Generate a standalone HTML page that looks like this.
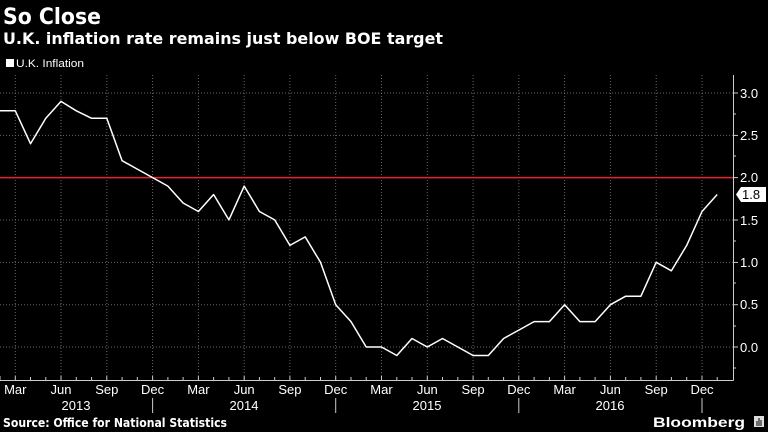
<!DOCTYPE html>
<html><head><meta charset="utf-8"><style>
html,body{margin:0;padding:0;background:#000;}
svg{display:block;font-family:"Liberation Sans",sans-serif;}
</style></head><body>
<svg width="768" height="432" viewBox="0 0 768 432" xmlns="http://www.w3.org/2000/svg">
<rect width="768" height="432" fill="#000"/>
<text x="3" y="24" fill="#fff" font-size="22" font-weight="bold" font-family="DejaVu Sans, sans-serif" textLength="98" lengthAdjust="spacingAndGlyphs">So Close</text>
<text x="3" y="44" fill="#fff" font-size="16" font-weight="bold" font-family="DejaVu Sans, sans-serif" textLength="440" lengthAdjust="spacingAndGlyphs">U.K. inflation rate remains just below BOE target</text>
<rect x="6" y="59" width="8" height="8" fill="#fff"/>
<text x="16" y="67" fill="#fff" font-size="11" textLength="68" lengthAdjust="spacingAndGlyphs">U.K. Inflation</text>
<g stroke="#666" stroke-width="1" stroke-dasharray="1,2">
<line x1="0" y1="93" x2="733" y2="93"/>
<line x1="0" y1="135.4" x2="733" y2="135.4"/>
<line x1="0" y1="220" x2="733" y2="220"/>
<line x1="0" y1="262.4" x2="733" y2="262.4"/>
<line x1="0" y1="304.7" x2="733" y2="304.7"/>
<line x1="0" y1="347" x2="733" y2="347"/>
<line x1="15.3" y1="75" x2="15.3" y2="380"/><line x1="61" y1="75" x2="61" y2="380"/><line x1="106.8" y1="75" x2="106.8" y2="380"/><line x1="152.6" y1="75" x2="152.6" y2="380"/>
<line x1="198.4" y1="75" x2="198.4" y2="380"/><line x1="244.2" y1="75" x2="244.2" y2="380"/><line x1="289.9" y1="75" x2="289.9" y2="380"/><line x1="335.7" y1="75" x2="335.7" y2="380"/>
<line x1="381.5" y1="75" x2="381.5" y2="380"/><line x1="427.3" y1="75" x2="427.3" y2="380"/><line x1="473.1" y1="75" x2="473.1" y2="380"/><line x1="518.8" y1="75" x2="518.8" y2="380"/>
<line x1="564.6" y1="75" x2="564.6" y2="380"/><line x1="610.4" y1="75" x2="610.4" y2="380"/><line x1="656.2" y1="75" x2="656.2" y2="380"/><line x1="702" y1="75" x2="702" y2="380"/>
</g>
<line x1="0" y1="177.6" x2="733" y2="177.6" stroke="#e8232e" stroke-width="1.5"/>
<line x1="733.5" y1="75" x2="733.5" y2="380.5" stroke="#ccc"/>
<line x1="0" y1="380.5" x2="733.5" y2="380.5" stroke="#ccc"/>
<g stroke="#ccc">
<line x1="733" y1="93" x2="738" y2="93"/><line x1="733" y1="135.4" x2="738" y2="135.4"/><line x1="733" y1="177.6" x2="738" y2="177.6"/><line x1="733" y1="220" x2="738" y2="220"/><line x1="733" y1="262.4" x2="738" y2="262.4"/><line x1="733" y1="304.7" x2="738" y2="304.7"/><line x1="733" y1="347" x2="738" y2="347"/>
<line x1="733" y1="114" x2="736" y2="114"/><line x1="733" y1="156" x2="736" y2="156"/><line x1="733" y1="241" x2="736" y2="241"/><line x1="733" y1="283" x2="736" y2="283"/><line x1="733" y1="326" x2="736" y2="326"/><line x1="733" y1="368" x2="736" y2="368"/>
</g>
<g fill="#fff" font-size="13">
<text x="740" y="98">3.0</text><text x="740" y="140">2.5</text><text x="740" y="182">2.0</text><text x="740" y="225">1.5</text><text x="740" y="267">1.0</text><text x="740" y="309">0.5</text><text x="740" y="352">0.0</text>
</g>
<path d="M736,194.5 L741,187 L766,187 L766,202 L741,202 Z" fill="#fff"/>
<text x="742" y="199" fill="#000" font-size="13">1.8</text>
<g stroke="#ccc">
<line x1="0" y1="380" x2="0" y2="376"/>
<line x1="15.3" y1="380" x2="15.3" y2="376"/><line x1="30.5" y1="380" x2="30.5" y2="377"/><line x1="45.8" y1="380" x2="45.8" y2="377"/><line x1="61" y1="380" x2="61" y2="376"/><line x1="76.3" y1="380" x2="76.3" y2="377"/><line x1="91.6" y1="380" x2="91.6" y2="377"/><line x1="106.8" y1="380" x2="106.8" y2="376"/><line x1="122.1" y1="380" x2="122.1" y2="377"/><line x1="137.3" y1="380" x2="137.3" y2="377"/><line x1="152.6" y1="380" x2="152.6" y2="376"/><line x1="167.9" y1="380" x2="167.9" y2="377"/><line x1="183.1" y1="380" x2="183.1" y2="377"/><line x1="198.4" y1="380" x2="198.4" y2="376"/><line x1="213.6" y1="380" x2="213.6" y2="377"/><line x1="228.9" y1="380" x2="228.9" y2="377"/><line x1="244.2" y1="380" x2="244.2" y2="376"/><line x1="259.4" y1="380" x2="259.4" y2="377"/><line x1="274.7" y1="380" x2="274.7" y2="377"/><line x1="289.9" y1="380" x2="289.9" y2="376"/><line x1="305.2" y1="380" x2="305.2" y2="377"/><line x1="320.5" y1="380" x2="320.5" y2="377"/><line x1="335.7" y1="380" x2="335.7" y2="376"/><line x1="351" y1="380" x2="351" y2="377"/><line x1="366.2" y1="380" x2="366.2" y2="377"/><line x1="381.5" y1="380" x2="381.5" y2="376"/><line x1="396.8" y1="380" x2="396.8" y2="377"/><line x1="412" y1="380" x2="412" y2="377"/><line x1="427.3" y1="380" x2="427.3" y2="376"/><line x1="442.5" y1="380" x2="442.5" y2="377"/><line x1="457.8" y1="380" x2="457.8" y2="377"/><line x1="473.1" y1="380" x2="473.1" y2="376"/><line x1="488.3" y1="380" x2="488.3" y2="377"/><line x1="503.6" y1="380" x2="503.6" y2="377"/><line x1="518.8" y1="380" x2="518.8" y2="376"/><line x1="534.1" y1="380" x2="534.1" y2="377"/><line x1="549.4" y1="380" x2="549.4" y2="377"/><line x1="564.6" y1="380" x2="564.6" y2="376"/><line x1="579.9" y1="380" x2="579.9" y2="377"/><line x1="595.1" y1="380" x2="595.1" y2="377"/><line x1="610.4" y1="380" x2="610.4" y2="376"/><line x1="625.7" y1="380" x2="625.7" y2="377"/><line x1="640.9" y1="380" x2="640.9" y2="377"/><line x1="656.2" y1="380" x2="656.2" y2="376"/><line x1="671.4" y1="380" x2="671.4" y2="377"/><line x1="686.7" y1="380" x2="686.7" y2="377"/><line x1="702" y1="380" x2="702" y2="376"/><line x1="717.2" y1="380" x2="717.2" y2="377"/>
<line x1="152.6" y1="398" x2="152.6" y2="413"/><line x1="335.7" y1="398" x2="335.7" y2="413"/><line x1="518.8" y1="398" x2="518.8" y2="413"/><line x1="702" y1="398" x2="702" y2="413"/>
</g>
<g fill="#fff" font-size="13" text-anchor="middle">
<text x="15.3" y="394">Mar</text><text x="61" y="394">Jun</text><text x="106.8" y="394">Sep</text><text x="152.6" y="394">Dec</text>
<text x="198.4" y="394">Mar</text><text x="244.2" y="394">Jun</text><text x="289.9" y="394">Sep</text><text x="335.7" y="394">Dec</text>
<text x="381.5" y="394">Mar</text><text x="427.3" y="394">Jun</text><text x="473.1" y="394">Sep</text><text x="518.8" y="394">Dec</text>
<text x="564.6" y="394">Mar</text><text x="610.4" y="394">Jun</text><text x="656.2" y="394">Sep</text><text x="702" y="394">Dec</text>
<text x="76" y="410">2013</text><text x="244" y="410">2014</text><text x="427" y="410">2015</text><text x="610" y="410">2016</text>
</g>
<polyline fill="none" stroke="#fff" stroke-width="1.5" stroke-linejoin="round" points="0,110.8 15.3,110.8 30.5,143.7 45.8,118.3 61,101.4 76.3,110.8 91.6,118.3 106.8,118.3 122.1,160.7 137.3,169.1 152.6,177.6 167.9,186.1 183.1,203 198.4,211.5 213.6,194.5 228.9,219.9 244.2,186.1 259.4,211.5 274.7,219.9 289.9,245.4 305.2,236.9 320.5,262.3 335.7,304.7 351,321.6 366.2,347 381.5,347 396.8,355.5 412,338.5 427.3,347 442.5,338.5 457.8,347 473.1,355.5 488.3,355.5 503.6,338.5 518.8,330.1 534.1,321.6 549.4,321.6 564.6,304.7 579.9,321.6 595.1,321.6 610.4,304.7 625.7,296.2 640.9,296.2 656.2,262.3 671.4,270.8 686.7,245.4 702,211.5 717.2,194.5"/>
<text x="3" y="427" fill="#fff" font-size="12" font-weight="bold" font-family="DejaVu Sans, sans-serif" textLength="224" lengthAdjust="spacingAndGlyphs">Source: Office for National Statistics</text>
<text x="653" y="427" fill="#fff" font-size="14" font-weight="bold" textLength="92" lengthAdjust="spacingAndGlyphs">Bloomberg</text>
<rect x="754" y="416" width="10" height="11" fill="#ddd"/>
<g stroke="#000" stroke-width="1"><line x1="757" y1="426" x2="757" y2="421"/><line x1="759" y1="426" x2="759" y2="418"/><line x1="761" y1="426" x2="761" y2="420"/></g>
</svg>
</body></html>
